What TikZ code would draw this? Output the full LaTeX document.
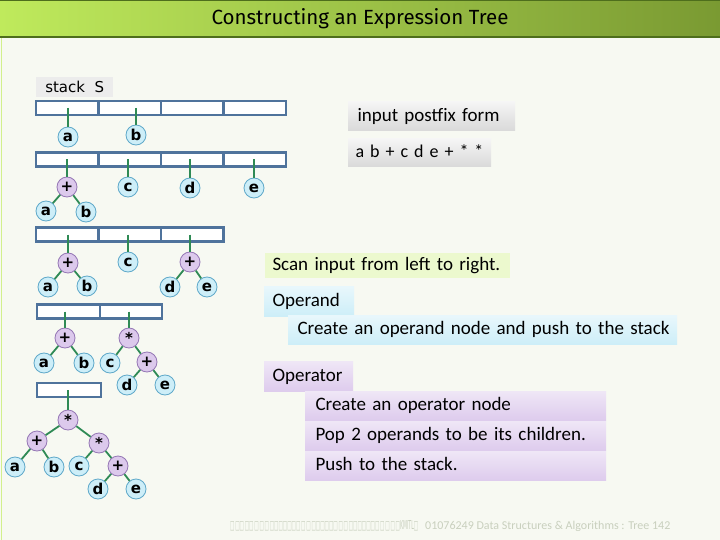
\documentclass[tikz,border=0pt]{standalone}
\usepackage{fontspec}
\setmainfont{Carlito}
\newfontfamily\titlefont{Fira Sans}
\newfontfamily\nodefont{DejaVu Sans}
\newfontfamily\symfont{DejaVu Sans}
\usepackage{tikz}
\usetikzlibrary{positioning}

\definecolor{bgcol}{HTML}{F7F9F2}
\definecolor{barL}{HTML}{BFEA5C}
\definecolor{barR}{HTML}{7A9A32}
\definecolor{barline}{HTML}{4E6E1C}
\definecolor{stackblue}{HTML}{4F739C}
\definecolor{edgegreen}{HTML}{2F8A55}
\definecolor{leafF}{HTML}{CDEEF8}
\definecolor{leafD}{HTML}{5FA9C9}
\definecolor{opF}{HTML}{DCC9EC}
\definecolor{opD}{HTML}{9577B5}
\definecolor{footgray}{HTML}{C9D0BE}

\begin{document}
\begin{tikzpicture}[
  x=1pt, y=-1pt,
  cell/.style={draw=stackblue, line width=2.2pt, fill=white, inner sep=0pt, outer sep=0pt,
    minimum width=62.5pt, minimum height=14pt},
  leaf/.style={circle, draw=leafD, line width=0.8pt, fill=leafF, inner sep=0pt,
    minimum size=20pt, font=\nodefont\bfseries\fontsize{15}{15}\selectfont},
  oper/.style={leaf, draw=opD, fill=opF},
  edge/.style={draw=edgegreen, line width=1.8pt},
  note/.style={anchor=north west, inner sep=0pt, outer sep=0pt, text height=14pt, text depth=4pt,
    font=\fontsize{19}{21}\selectfont, align=left},
  grayF/.style={note, top color=gray!8, bottom color=gray!30},
  blueF/.style={note, top color=leafF!45, bottom color=leafF},
  purpF/.style={note, top color=opF!45, bottom color=opF!95},
]
\useasboundingbox (0,0) rectangle (720,540);
\fill[bgcol] (0,0) rectangle (720,540);
\draw[barL!70, line width=1pt] (1.5,37) -- (1.5,540);

% title bar
\shade[left color=barL, right color=barR] (0,0) rectangle (720,37);
\draw[barline, line width=1.2pt] (0,0.6) -- (720,0.6);
\draw[barline, line width=1.5pt] (0,37) -- (720,37);
\node[font=\titlefont\fontsize{20.5}{22}\selectfont] (title) at (360,19) {Constructing an Expression Tree};

% stack label
\node[fill=gray!15, inner sep=0pt, minimum width=77pt, minimum height=20pt,
  font=\nodefont\fontsize{15}{17}\selectfont, anchor=north west] (stacklbl) at (36,77) {stack\ \ S};

% row 1
\node[cell] (r1c1) at (67.25,108) {};
\node[cell] (r1c2) at (129.75,108) {};
\node[cell] (r1c3) at (192.25,108) {};
\node[cell] (r1c4) at (254.75,108) {};
\node[leaf] (r1a) at (68,137) {a};
\node[leaf] (r1b) at (136,135) {b};
\draw[edge] (r1a |- r1c1.center) -- (r1a);
\draw[edge] (r1b |- r1c2.center) -- (r1b);

% row 2
\node[cell] (r2c1) at (67.25,159.5) {};
\node[cell] (r2c2) at (129.75,159.5) {};
\node[cell] (r2c3) at (192.25,159.5) {};
\node[cell] (r2c4) at (254.75,159.5) {};
\node[oper] (r2p) at (67,187) {+};
\node[leaf] (r2a) at (46,211) {a};
\node[leaf] (r2b) at (86,212) {b};
\node[leaf] (r2c) at (128,187) {c};
\node[leaf] (r2d) at (190,188) {d};
\node[leaf] (r2e) at (254,188) {e};
\draw[edge] (r2p |- r2c1.center) -- (r2p);
\draw[edge] (r2c |- r2c2.center) -- (r2c);
\draw[edge] (r2d |- r2c3.center) -- (r2d);
\draw[edge] (r2e |- r2c4.center) -- (r2e);
\draw[edge] (r2p) -- (r2a);
\draw[edge] (r2p) -- (r2b);

% row 3
\node[cell] (r3c1) at (67.25,234.5) {};
\node[cell] (r3c2) at (129.75,234.5) {};
\node[cell] (r3c3) at (192.25,234.5) {};
\node[oper] (r3p1) at (68,263) {+};
\node[leaf] (r3a) at (48,287) {a};
\node[leaf] (r3b) at (87,286) {b};
\node[leaf] (r3c) at (128,262) {c};
\node[oper] (r3p2) at (190,262) {+};
\node[leaf] (r3d) at (170,287) {d};
\node[leaf] (r3e) at (207,287) {e};
\draw[edge] (r3p1 |- r3c1.center) -- (r3p1);
\draw[edge] (r3c |- r3c2.center) -- (r3c);
\draw[edge] (r3p2 |- r3c3.center) -- (r3p2);
\draw[edge] (r3p1) -- (r3a);
\draw[edge] (r3p1) -- (r3b);
\draw[edge] (r3p2) -- (r3d);
\draw[edge] (r3p2) -- (r3e);

% row 4
\node[cell] (r4c1) at (68.5,311.5) {};
\node[cell] (r4c2) at (131,311.5) {};
\node[oper] (r4p1) at (65,338) {+};
\node[leaf] (r4a) at (44,363) {a};
\node[leaf] (r4b) at (84,363) {b};
\node[oper] (r4m) at (129,338) {*};
\node[leaf] (r4c) at (110,363) {c};
\node[oper] (r4p2) at (147,362) {+};
\node[leaf] (r4d) at (127,385) {d};
\node[leaf] (r4e) at (165,385) {e};
\draw[edge] (r4p1 |- r4c1.center) -- (r4p1);
\draw[edge] (r4m |- r4c2.center) -- (r4m);
\draw[edge] (r4p1) -- (r4a);
\draw[edge] (r4p1) -- (r4b);
\draw[edge] (r4m) -- (r4c);
\draw[edge] (r4m) -- (r4p2);
\draw[edge] (r4p2) -- (r4d);
\draw[edge] (r4p2) -- (r4e);

% row 5
\node[cell, minimum width=64pt] (r5c1) at (69,390) {};
\node[oper] (r5m1) at (68,420) {*};
\node[oper] (r5p1) at (37,441) {+};
\node[leaf] (r5a) at (15,467) {a};
\node[leaf] (r5b) at (54,467) {b};
\node[oper] (r5m2) at (99,443) {*};
\node[leaf] (r5c) at (79,466) {c};
\node[oper] (r5p2) at (118,466) {+};
\node[leaf] (r5d) at (98,489) {d};
\node[leaf] (r5e) at (136,489) {e};
\draw[edge] (r5m1 |- r5c1.center) -- (r5m1);
\draw[edge] (r5m1) -- (r5p1);
\draw[edge] (r5m1) -- (r5m2);
\draw[edge] (r5p1) -- (r5a);
\draw[edge] (r5p1) -- (r5b);
\draw[edge] (r5m2) -- (r5c);
\draw[edge] (r5m2) -- (r5p2);
\draw[edge] (r5p2) -- (r5d);
\draw[edge] (r5p2) -- (r5e);

% right side notes
\node[grayF, minimum width=167pt, minimum height=29pt, text width=160pt] (postlbl) at (348,102) {\hspace*{6pt}input postfix form};
\node[grayF, minimum width=143pt, minimum height=28pt, text width=140pt, font=\fontsize{18}{20}\selectfont] (postfix) at (348,139) {\hspace*{6pt}\mbox{a b + c d e + * *}};
\node[note, fill=barL!30, minimum width=245pt, minimum height=25pt, text width=240pt] (scan) at (265,253) {\hspace*{5pt}Scan input from left to right.};
\node[blueF, minimum width=90pt, minimum height=30pt, text width=85pt] (operand) at (264,286) {\hspace*{6pt}Operand};
\node[blueF, minimum width=389pt, minimum height=29pt, text width=384pt] (operandtxt) at (288,315) {\hspace*{7pt}Create an operand node and push to the stack};
\node[purpF, minimum width=89pt, minimum height=30pt, text width=84pt] (operator) at (264,361) {\hspace*{6pt}Operator};
\node[purpF, minimum width=301pt, minimum height=29pt, text width=296pt] (optxt1) at (305,391) {\hspace*{8pt}Create an operator node};
\node[purpF, minimum width=301pt, minimum height=29pt, text width=296pt] (optxt2) at (305,421) {\hspace*{8pt}Pop 2 operands to be its children.};
\node[purpF, minimum width=301pt, minimum height=29pt, text width=296pt] (optxt3) at (305,451) {\hspace*{8pt}Push to the stack.};

% footer
\node[anchor=west, inner sep=0pt, text=footgray] (footbox) at (230,526)
  {\resizebox{188pt}{9pt}{\symfont □\,□□\,□□\,□\,□\,□\,□□□□□□□\,□\,□\,□□□□□□\,□\,□\,□□□□□□□\,□\,□\,□\,□KMITL□}};
\node[anchor=west, inner sep=0pt, text=footgray, font=\fontsize{12}{12}\selectfont] (foottxt) at (425,526)
  {01076249 Data Structures \& Algorithms : Tree 142};
\end{tikzpicture}
\end{document}
